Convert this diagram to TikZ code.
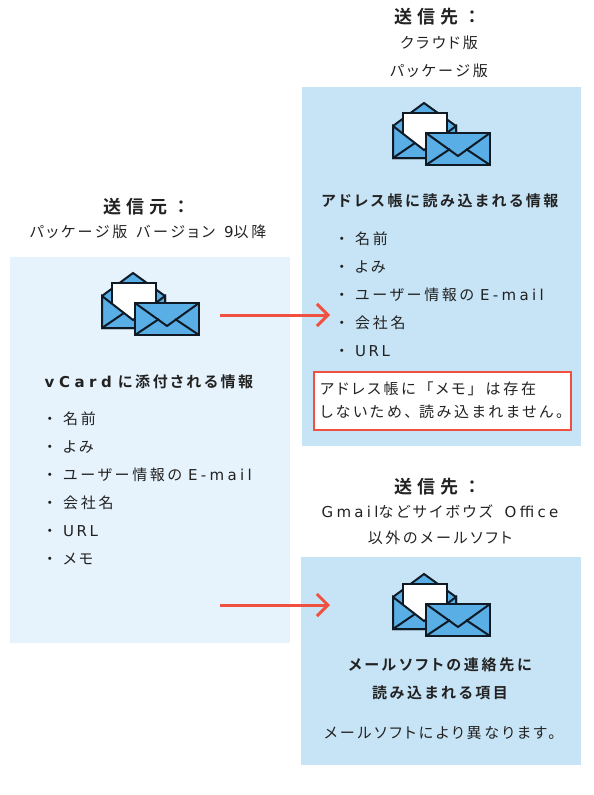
\documentclass[tikz,border=0pt]{standalone}
\usepackage{fontspec}
\usetikzlibrary{arrows.meta}
\newfontfamily\jpf[LetterSpace=18,RawFeature=+palt]{Noto Sans CJK JP}
\newfontfamily\jpn{Noto Sans CJK JP}
\newfontfamily\jpb[LetterSpace=18,RawFeature=+palt]{Noto Sans CJK JP Bold}
\newfontfamily\jpt[LetterSpace=26]{Noto Sans CJK JP Bold}
\newfontfamily\lat[LetterSpace=22]{DejaVu Sans}
\newfontfamily\latu[LetterSpace=17]{DejaVu Sans}
\newfontfamily\latb[LetterSpace=30]{DejaVu Sans Bold}
\definecolor{panelL}{HTML}{E6F3FC}
\definecolor{panelR}{HTML}{C7E4F6}
\definecolor{envblue}{HTML}{5AAEE6}
\definecolor{envline}{HTML}{0F1A24}
\definecolor{redc}{HTML}{F05040}
\definecolor{txt}{HTML}{222222}
\newcommand{\bul}{\makebox[22pt][l]{\hspace{5pt}・}}
\tikzset{
  x=1pt,y=-1pt,
  body/.style={inner sep=0,text=txt,font=\fontsize{15}{28}\selectfont\jpf,align=center},
  item/.style={body,anchor=west},
  head/.style={inner sep=0,text=txt,font=\fontsize{15}{28}\selectfont\jpb,align=center},
  title/.style={inner sep=0,text=txt,font=\fontsize{18}{22}\selectfont\jpt},
  link/.style={draw=redc,line width=3pt,-{Straight Barb[length=11pt,width=22pt,line width=3pt]}},
  envel/.style={draw=envline,line width=2pt,line join=miter,fill=envblue},
  thinl/.style={draw=envline,line width=2pt,line join=round},
  icon/.pic={
    \path[envel] (0,0) -- (31,-23) -- (63,0) -- (63,32) -- (0,32) -- cycle;
    \path[envel,fill=white] (10,-13) -- (54,-13) -- (54,30) -- (10,30) -- cycle;
    \path[envel] (0,0) -- (0,32) -- (63,32) -- (63,0) -- (31,24) -- cycle;
    \path[thinl] (0,32) -- (22,17);
    \path[thinl] (63,32) -- (42,17);
    \path[envel] (33,7) rectangle (97,39);
    \path[thinl] (33,7) -- (65,30) -- (97,7);
    \path[thinl] (33,39) -- (57,23);
    \path[thinl] (97,39) -- (73,23);
  }
}
\begin{document}
\begin{tikzpicture}
\useasboundingbox (0,0) rectangle (594,795);
\fill[panelL] (10,257) rectangle (290,643);
\fill[panelR] (302,87) rectangle (581,446);
\fill[panelR] (301,557) rectangle (581,765);
\pic at (102,296) {icon};
\pic at (393,126) {icon};
\pic at (393,597) {icon};
% top right
\node[title] (t1) at (438,17) {送信先：};
\node[body] (t1a) at (439,43) {クラウド版};
\node[body] (t1b) at (439,71) {パッケージ版};
\node[head] (h1) at (440,201) {アドレス帳に読み込まれる情報};
\node[item] (r1) at (333,239) {\bul 名前};
\node[item] (r2) at (333,267) {\bul よみ};
\node[item] (r3) at (333,295) {\bul ユーザー情報の {\lat E-mail}};
\node[item] (r4) at (333,323) {\bul 会社名};
\node[item] (r5) at (333,351) {\bul {\latu URL}};
\node[draw=redc,line width=2pt,fill=white,minimum width=257pt,minimum height=58pt,inner sep=0] (memo) at (442.5,401) {};
\node[body,align=left,font=\fontsize{15}{22.5}\selectfont\jpf,anchor=west] (memot) at (320,400.5) {アドレス帳に\hspace{3pt}{\jpn 「}\hspace{2pt}メモ\hspace{2pt}{\jpn 」}\hspace{3pt}は存在\\しないため、\hspace{7pt}読み込まれません。};
% left
\node[title] (t2) at (147,207) {送信元：};
\node[body] (t2a) at (148,232) {パッケージ版\hspace{3pt} バージョン\hspace{3pt} {\lat 9}以降};
\node[head] (h2) at (149,382) {{\latb vCard} に添付される情報};
\node[item] (l1) at (41,419) {\bul 名前};
\node[item] (l2) at (41,447) {\bul よみ};
\node[item] (l3) at (41,475) {\bul ユーザー情報の {\lat E-mail}};
\node[item] (l4) at (41,503) {\bul 会社名};
\node[item] (l5) at (41,531) {\bul {\latu URL}};
\node[item] (l6) at (41,559) {\bul メモ};
% bottom right
\node[title] (t3) at (438,487) {送信先：};
\node[body] (t3a) at (440,512) {{\lat Gmail}などサイボウズ\hspace{6pt} {\lat Office}};
\node[body] (t3b) at (440,538) {以外のメールソフト};
\node[head] (h3) at (440,679) {メールソフトの連絡先に\\読み込まれる項目};
\node[body] (n3) at (440,733) {メールソフトにより異なります。};
% arrows
\coordinate (a1s) at (220,315);
\coordinate (a1e) at (330,315);
\coordinate (a2s) at (220,605);
\coordinate (a2e) at (330,605);
\draw[link] (a1s) -- (a1e);
\draw[link] (a2s) -- (a2e);
\end{tikzpicture}
\end{document}
